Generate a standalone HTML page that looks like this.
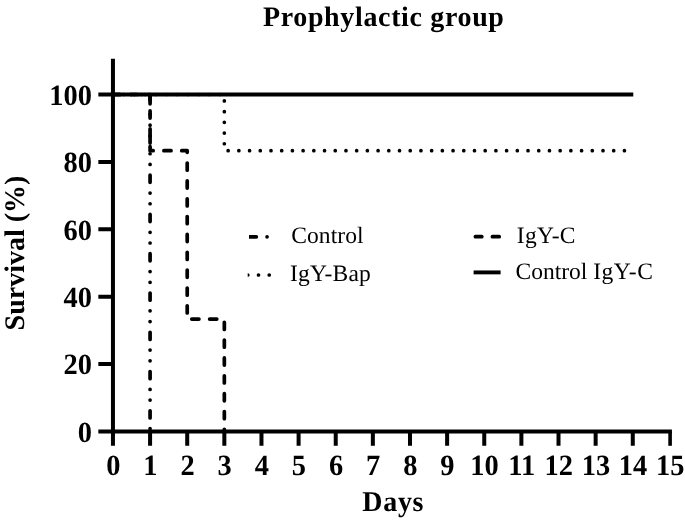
<!DOCTYPE html>
<html lang="en"><head><meta charset="utf-8"><title>Prophylactic group</title>
<style>html,body{margin:0;padding:0;background:#fff}body{width:685px;height:520px;overflow:hidden}svg text{white-space:pre}</style></head>
<body>
<svg width="685" height="520" viewBox="0 0 685 520" style="display:block">
<rect width="685" height="520" fill="#fff"/>
<g stroke="#000" stroke-width="4.0" fill="none" stroke-linecap="butt">
<path d="M112.95 58.8 V433.40"/>
<path d="M110.95 431.40 H671.90"/>
<path d="M112.95 431.40 V445.80 M150.08 431.40 V445.80 M187.21 431.40 V445.80 M224.34 431.40 V445.80 M261.47 431.40 V445.80 M298.60 431.40 V445.80 M335.73 431.40 V445.80 M372.86 431.40 V445.80 M409.99 431.40 V445.80 M447.12 431.40 V445.80 M484.25 431.40 V445.80 M521.38 431.40 V445.80 M558.51 431.40 V445.80 M595.64 431.40 V445.80 M632.77 431.40 V445.80"/>
<path d="M670.10 431.40 V445.80" stroke-width="3.6"/>
<path d="M98.35 431.40 H112.95 M98.35 364.02 H112.95 M98.35 296.64 H112.95 M98.35 229.26 H112.95 M98.35 161.88 H112.95 M98.35 94.50 H112.95"/>
</g>
<g stroke="#000" stroke-width="3.7" fill="none" stroke-linecap="round" stroke-linejoin="round">
<path d="M112.95 94.50 H150.08 V431.40" stroke-dasharray="7.14 10.71 0 10.71 0 10.71"/>
<path d="M112.95 94.50 H150.08 V150.66 H187.21 V319.11 H224.34 V431.40" stroke-dasharray="7.14 10.71"/>
<path d="M112.95 94.50 H224.34 V150.66 H632.77" stroke-dasharray="0 10.71"/>
<path d="M112.95 94.50 H633.27" stroke-linecap="butt" stroke-width="3.9"/>
</g>
<defs><clipPath id="lc1"><rect x="249" y="225" width="26" height="30"/></clipPath><clipPath id="lc2"><rect x="247.7" y="260" width="27" height="30"/></clipPath></defs>
<g stroke="#000" stroke-width="3.7" fill="none" stroke-linecap="round">
<path clip-path="url(#lc1)" d="M249.2 236.8 H290" stroke-dasharray="7.14 10.71 0 10.71 0 10.71"/>
<path clip-path="url(#lc2)" d="M247.8 275 H290" stroke-dasharray="0 10.71"/>
<path d="M475.4 236.7 H481.8 M492.4 236.7 H499.2"/>
<path d="M473.6 272.4 H500.6" stroke-linecap="butt" stroke-width="3.9"/>
</g>
<g font-family="'Liberation Serif', serif" fill="#000" text-rendering="geometricPrecision">
<g font-weight="bold" font-size="28px">
<g text-anchor="middle">
<text transform="translate(113.25 475.4) scale(1.015 1.05)">0</text>
<text transform="translate(150.38 475.4) scale(1.015 1.05)">1</text>
<text transform="translate(187.51 475.4) scale(1.015 1.05)">2</text>
<text transform="translate(224.64 475.4) scale(1.015 1.05)">3</text>
<text transform="translate(261.77 475.4) scale(1.015 1.05)">4</text>
<text transform="translate(298.90 475.4) scale(1.015 1.05)">5</text>
<text transform="translate(336.03 475.4) scale(1.015 1.05)">6</text>
<text transform="translate(373.16 475.4) scale(1.015 1.05)">7</text>
<text transform="translate(410.29 475.4) scale(1.015 1.05)">8</text>
<text transform="translate(447.42 475.4) scale(1.015 1.05)">9</text>
<text transform="translate(484.55 475.4) scale(1.015 1.05)">10</text>
<text transform="translate(521.68 475.4) scale(1.015 1.05)">11</text>
<text transform="translate(558.81 475.4) scale(1.015 1.05)">12</text>
<text transform="translate(595.94 475.4) scale(1.015 1.05)">13</text>
<text transform="translate(633.07 475.4) scale(1.015 1.05)">14</text>
<text transform="translate(670.20 475.4) scale(1.015 1.05)">15</text>
</g>
<g text-anchor="end">
<text transform="translate(92 441.80) scale(1.015 1.05)">0</text>
<text transform="translate(92 374.42) scale(1.015 1.05)">20</text>
<text transform="translate(92 307.04) scale(1.015 1.05)">40</text>
<text transform="translate(92 239.66) scale(1.015 1.05)">60</text>
<text transform="translate(92 172.28) scale(1.015 1.05)">80</text>
<text transform="translate(92 104.90) scale(1.015 1.05)">100</text>
</g>
<text transform="translate(262.9 26.2) scale(1 1.005)" letter-spacing="0.65">Prophylactic group</text>
<text transform="translate(362.3 510.5) scale(1 1.025)" letter-spacing="0.7">Days</text>
<text transform="translate(24.4 330.4) rotate(-90) scale(1.0 1.012)">Survival (%)</text>
</g>
<g font-size="23.5px">
<text transform="translate(291.2 243.3)" letter-spacing="0.1">Control</text>
<text transform="translate(290.0 281.3)" letter-spacing="0.2">IgY-Bap</text>
<text transform="translate(516.8 243.3)" letter-spacing="0.3">IgY-C</text>
<text transform="translate(515.5 279.3)" letter-spacing="0.55"><tspan letter-spacing="0">Control </tspan>IgY-C</text>
</g>
</g>
</svg>
</body></html>
